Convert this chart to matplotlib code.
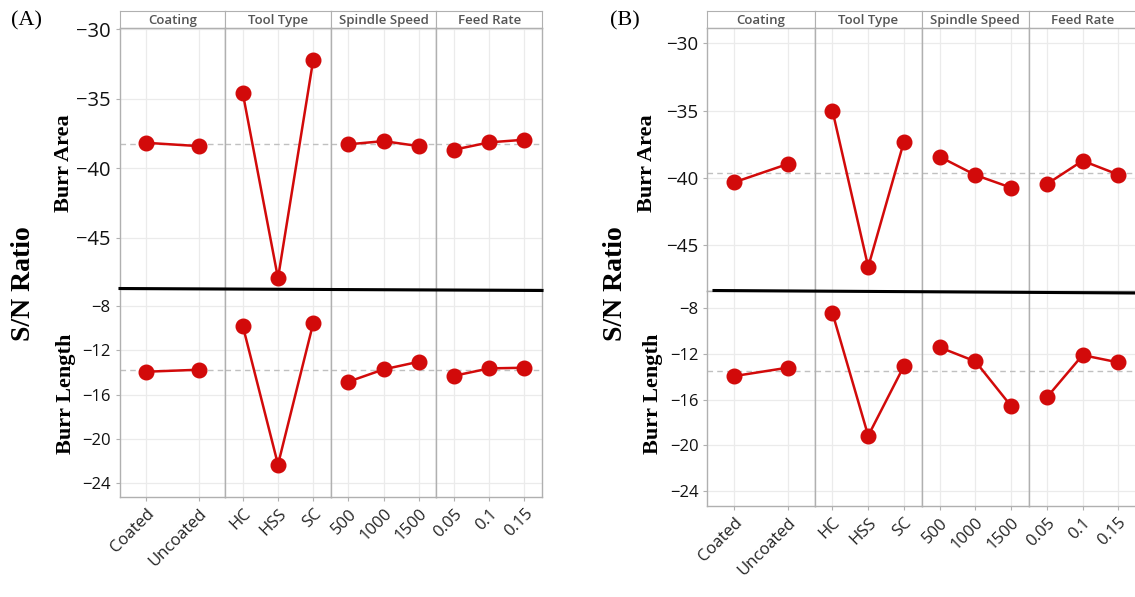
import matplotlib
matplotlib.use('Agg')
import matplotlib.pyplot as plt

W, H = 1135, 597

factors = ['Coating', 'Tool Type', 'Spindle Speed', 'Feed Rate']
levels = [['Coated', 'Uncoated'], ['HC', 'HSS', 'SC'],
          ['500', '1000', '1500'], ['0.05', '0.1', '0.15']]

# (A) valores S/N
a_area = [[-38.16, -38.4], [-34.6, -47.9, -32.2],
          [-38.27, -38.04, -38.4], [-38.66, -38.13, -37.94]]
a_length = [[-13.93, -13.75], [-9.8, -22.3, -9.56],
            [-14.83, -13.72, -13.03], [-14.3, -13.63, -13.57]]
a_area_mean = -38.25
a_length_mean = -13.8

# (B)
b_area = [[-40.32, -38.96], [-35.0, -46.6, -37.3],
          [-38.42, -39.78, -40.72], [-40.45, -38.72, -39.75]]
b_length = [[-13.94, -13.2], [-8.41, -19.17, -13.06],
            [-11.42, -12.65, -16.57], [-15.8, -12.1, -12.74]]
b_area_mean = -39.63
b_length_mean = -13.5

area_ticks = [-30, -35, -40, -45]
length_ticks = [-8, -12, -16, -20, -24]

RED = '#d20a0a'
GRID = '#ebebeb'
BORDER = '#b0b0b0'
TICKFONT = 'Open Sans'
SERIF = 'Liberation Serif'


def rect(x0, y0, x1, y1):
    # pixeles -> fraccion de figura
    return [x0 / W, 1 - y1 / H, (x1 - x0) / W, (y1 - y0) / H]


def draw_row(fig, x0, fw, y0, y1, data, mean, ticks, ylim, tsize, bottom):
    for i, (lv, vals) in enumerate(zip(levels, data)):
        ax = fig.add_axes(rect(x0 + i * fw, y0, x0 + (i + 1) * fw, y1))
        xs = list(range(1, len(lv) + 1))
        ax.plot(xs, vals, '-o', color=RED, lw=1.8, ms=10.5, zorder=3)
        ax.axhline(mean, color='#c0c0c0', lw=1, ls=(0, (4, 3)), zorder=2)
        ax.set_xlim(0.5, len(lv) + 0.5)
        ax.set_ylim(*ylim)
        ax.set_xticks(xs)
        ax.set_yticks(ticks)
        ax.grid(True, color=GRID, lw=0.9, zorder=0)
        ax.set_axisbelow(True)
        for s in ax.spines.values():
            s.set_color(BORDER)
            s.set_linewidth(1.0)
        ax.tick_params(length=3, color=BORDER, labelcolor='#111111')
        if i == 0:
            ax.set_yticklabels([f'\u2212{abs(t)}' for t in ticks],
                               fontsize=tsize, family=TICKFONT, fontweight='medium')
        else:
            ax.tick_params(axis='y', left=False, labelleft=False)
        if bottom:
            ax.set_xticklabels(lv, rotation=45, ha='right', rotation_mode='anchor',
                               fontsize=12, family=TICKFONT, color='#222222')
        else:
            ax.tick_params(axis='x', bottom=False, labelbottom=False)


def draw_panel(fig, x0, fw, ysplit, ybot, area, length, amean, lmean,
               alim, llim, atsize):
    # franjas con el nombre del factor
    for i, f in enumerate(factors):
        sa = fig.add_axes(rect(x0 + i * fw, 11, x0 + (i + 1) * fw, 27.7))
        sa.set_xticks([])
        sa.set_yticks([])
        for s in sa.spines.values():
            s.set_color(BORDER)
        sa.text(0.5, 0.45, f, ha='center', va='center', fontsize=9.5,
                color='#555555', family=TICKFONT, fontweight='semibold')
    draw_row(fig, x0, fw, 27.7, ysplit, area, amean, area_ticks, alim, atsize, False)
    draw_row(fig, x0, fw, ysplit, ybot, length, lmean, length_ticks, llim, 12, True)


fig = plt.figure(figsize=(W / 100, H / 100), dpi=100)

draw_panel(fig, 119.6, 105.6, 289, 496.7, a_area, a_length,
           a_area_mean, a_length_mean, (-48.68, -29.88), (-25.2, -6.47), 14.5)
draw_panel(fig, 707.4, 107.2, 291, 505.7, b_area, b_length,
           b_area_mean, b_length_mean, (-48.39, -28.84), (-25.3, -6.48), 13.5)

# linea negra que separa las dos filas
ov = fig.add_axes([0, 0, 1, 1])
ov.set_xlim(0, W)
ov.set_ylim(H, 0)
ov.axis('off')
ov.plot([120, 542], [288.5, 290.5], color='black', lw=2.2)
ov.plot([714, 1135], [290.5, 293], color='black', lw=2.2)

# etiquetas en Times
ov.text(26, 21, '(A)', fontsize=16, family=SERIF, ha='center', va='center')
ov.text(625, 21, '(B)', fontsize=16, family=SERIF, ha='center', va='center')
for xs, xa, xl in [(24, 64, 66), (616, 647, 653)]:
    ov.text(xs, 284, 'S/N Ratio', rotation=90, fontsize=20, fontweight='bold',
            family=SERIF, ha='center', va='center')
    ov.text(xa, 163, 'Burr Area', rotation=90, fontsize=16, fontweight='bold',
            family=SERIF, ha='center', va='center')
    ov.text(xl, 394, 'Burr Length', rotation=90, fontsize=16, fontweight='bold',
            family=SERIF, ha='center', va='center')

plt.savefig('out.png', dpi=100)
plt.close()
